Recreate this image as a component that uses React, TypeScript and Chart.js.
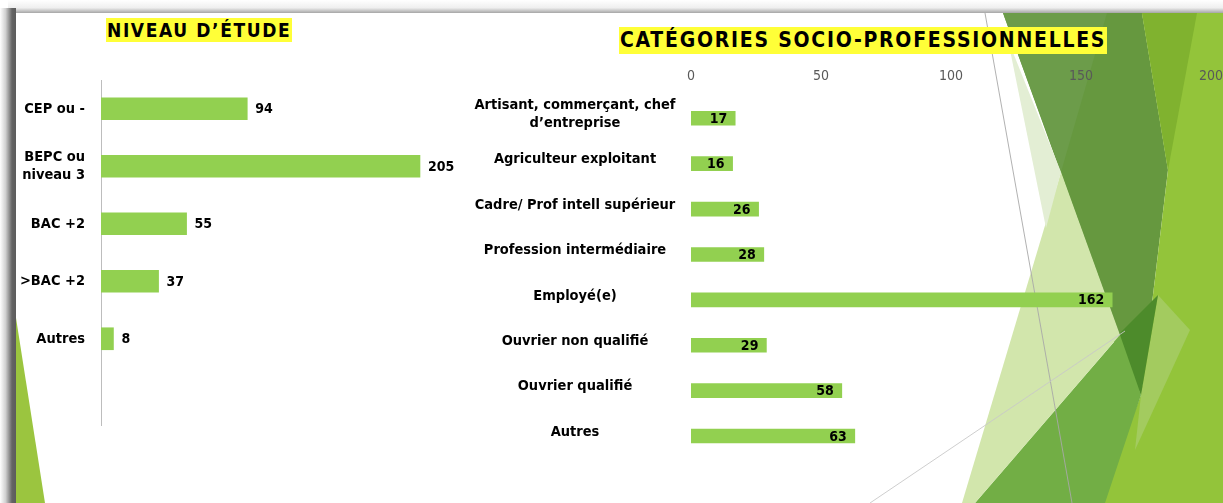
import React, { useEffect, useRef } from 'react';
import { Chart, registerables } from 'chart.js';

Chart.register(...registerables);

const FONT = '"DejaVu Sans Condensed", "DejaVu Sans", sans-serif';
const BAR_COLOR = '#92D050';

// ---- Niveau d'étude ----
const EDU_TITLE = 'NIVEAU D’ÉTUDE';
const EDU_LABELS: (string | string[])[] = ['CEP ou -', ['BEPC ou', 'niveau 3'], 'BAC +2', '>BAC +2', 'Autres', ''];
const EDU_VALUES = [94, 205, 55, 37, 8];
const EDU_MAX = 250;

// ---- Catégories socio-professionnelles ----
const CSP_TITLE = 'CATÉGORIES SOCIO-PROFESSIONNELLES';
const CSP_LABELS: (string | string[])[] = [
  ['Artisant, commerçant, chef', 'd’entreprise'],
  'Agriculteur exploitant',
  'Cadre/ Prof intell supérieur',
  'Profession intermédiaire',
  'Employé(e)',
  'Ouvrier non qualifié',
  'Ouvrier qualifié',
  'Autres',
];
const CSP_VALUES = [17, 16, 26, 28, 162, 29, 58, 63];
const CSP_TICKS = [0, 50, 100, 150, 200];

function valueLabels(mode: 'outside' | 'inside') {
  return {
    id: 'valueLabels',
    afterDatasetsDraw(chart: any) {
      const ctx = chart.ctx;
      const meta = chart.getDatasetMeta(0);
      const data = chart.data.datasets[0].data;
      ctx.save();
      ctx.font = `bold 14px ${FONT}`;
      ctx.fillStyle = '#000';
      ctx.textBaseline = 'middle';
      meta.data.forEach((el: any, i: number) => {
        const v = data[i];
        if (v == null) return;
        const { x, y } = el.getProps(['x', 'y'], true);
        if (mode === 'outside') {
          ctx.textAlign = 'left';
          ctx.fillText(String(v), x + 8, y + 1);
        } else {
          ctx.textAlign = 'right';
          ctx.fillText(String(v), x - 8, y + 1);
        }
      });
      ctx.restore();
    },
  };
}

const labelFont = { family: FONT, size: 14.5, weight: 'bold' as const, lineHeight: 1.2 };

export default function App() {
  const leftRef = useRef<HTMLCanvasElement>(null);
  const rightRef = useRef<HTMLCanvasElement>(null);

  useEffect(() => {
    const left = new Chart(leftRef.current!, {
      type: 'bar',
      data: {
        labels: EDU_LABELS,
        datasets: [{ data: EDU_VALUES, backgroundColor: BAR_COLOR, barThickness: 22 }],
      },
      options: {
        indexAxis: 'y',
        responsive: false,
        animation: false,
        layout: { padding: { top: 30, bottom: 30, left: 0, right: 6 } },
        plugins: { legend: { display: false }, tooltip: { enabled: false } },
        scales: {
          x: { display: false, min: 0, max: EDU_MAX },
          y: {
            grid: { display: false, drawTicks: false },
            border: { display: true, color: '#BDBDBD', width: 1 },
            ticks: { font: labelFont, color: '#000', padding: 16, crossAlign: 'near' },
            afterFit: (s: any) => { s.width = 85; },
          },
        },
      },
      plugins: [valueLabels('outside')],
    } as any);

    const m = document.createElement('canvas').getContext('2d')!;
    m.font = `bold 14.5px ${FONT}`;
    const widest = Math.max(...CSP_LABELS.flat().map((s) => m.measureText(s).width));
    const pad = 116 - widest / 2;

    const right = new Chart(rightRef.current!, {
      type: 'bar',
      data: {
        labels: CSP_LABELS,
        datasets: [{ data: CSP_VALUES, backgroundColor: BAR_COLOR, barThickness: 14 }],
      },
      options: {
        indexAxis: 'y',
        responsive: false,
        animation: false,
        layout: { padding: { top: 0, bottom: 40.3, left: 0, right: 29 } },
        plugins: { legend: { display: false }, tooltip: { enabled: false } },
        scales: {
          x: {
            position: 'top',
            min: CSP_TICKS[0],
            max: CSP_TICKS[CSP_TICKS.length - 1],
            afterBuildTicks: (s: any) => { s.ticks = CSP_TICKS.map((v) => ({ value: v })); },
            grid: { display: false, drawTicks: false },
            border: { display: false },
            ticks: { font: { family: FONT, size: 14 }, color: '#595959', padding: 11 },
            afterFit: (s: any) => { s.height = 40.6; },
          },
          y: {
            grid: { display: false, drawTicks: false },
            border: { display: false },
            ticks: { font: labelFont, color: '#000', padding: pad, crossAlign: 'center', labelOffset: -4 },
            afterFit: (s: any) => { s.width = 231; },
          },
        },
      },
      plugins: [valueLabels('inside')],
    } as any);

    return () => {
      left.destroy();
      right.destroy();
    };
  }, []);

  const titleStyle = (left: number, top: number, h: number, size: number, ls: number): React.CSSProperties => ({
    position: 'absolute',
    left,
    top,
    height: h,
    lineHeight: `${h}px`,
    background: '#FFFF38',
    color: '#000',
    fontFamily: FONT,
    fontWeight: 'bold',
    fontSize: size,
    letterSpacing: ls,
    padding: '0 1px',
    whiteSpace: 'nowrap',
  });

  return (
    <div style={{ position: 'absolute', left: 0, top: 0, width: 1223, height: 503, overflow: 'hidden', background: '#fff' }}>
      <svg width={1223} height={503} style={{ position: 'absolute', left: 0, top: 0 }}>
        <defs>
          <linearGradient id="lg" x1="0" y1="0" x2="1" y2="0">
            <stop offset="0" stopColor="#ffffff" />
            <stop offset="0.35" stopColor="#d0d0d0" />
            <stop offset="0.75" stopColor="#646464" />
            <stop offset="1" stopColor="#5c5c5c" />
          </linearGradient>
          <linearGradient id="tg" x1="0" y1="0" x2="0" y2="1">
            <stop offset="0" stopColor="#ffffff" />
            <stop offset="0.6" stopColor="#efefef" />
            <stop offset="1" stopColor="#a6a6a6" />
          </linearGradient>
        </defs>
        <rect x={0} y={0} width={1223} height={503} fill="#fff" />
        <rect x={8} y={0} width={1215} height={13} fill="url(#tg)" />
        <rect x={0} y={8} width={16} height={495} fill="url(#lg)" />
        <polygon points="16,318 16,503 45,503" fill="#9BC53F" />
        <polygon points="1003,13 1142,13 1168,170 1141,395" fill="#66983F" />
        <polygon points="1003,13 1107,13 1061,172" fill="#6C9C4A" />
        <polygon points="1142,13 1223,13 1223,503 1100,503 1141,395 1168,170" fill="#93C43A" />
        <polygon points="1142,13 1197,13 1168,170" fill="#80B22F" />
        <polygon points="1158,295 1190,330 1135,450 1141,395" fill="#A3CB5F" />
        <polygon points="1113,340 1158,295 1141,395" fill="#4D8B2B" />
        <polygon points="1120,335 1141,395 1105,503 975,503" fill="#72AE45" />
        <polygon points="1061,172 1120,335 975,503 962,503" fill="#D2E6AC" />
        <polygon points="1008,40 1061,172 1046,228" fill="#E3EED4" />
        <line x1={985} y1={13} x2={1072} y2={503} stroke="#A8A8A8" strokeWidth={0.9} />
        <line x1={870} y1={503} x2={1125} y2={331} stroke="#C8C8C8" strokeWidth={0.9} />
      </svg>
      <canvas ref={leftRef} width={480} height={405} style={{ position: 'absolute', left: 16, top: 50 }} />
      <canvas ref={rightRef} width={780} height={444} style={{ position: 'absolute', left: 460, top: 55 }} />
      <div style={titleStyle(106, 18, 24, 19, 1.6)}>{EDU_TITLE}</div>
      <div style={titleStyle(619, 27, 27, 21, 1.75)}>{CSP_TITLE}</div>
    </div>
  );
}
